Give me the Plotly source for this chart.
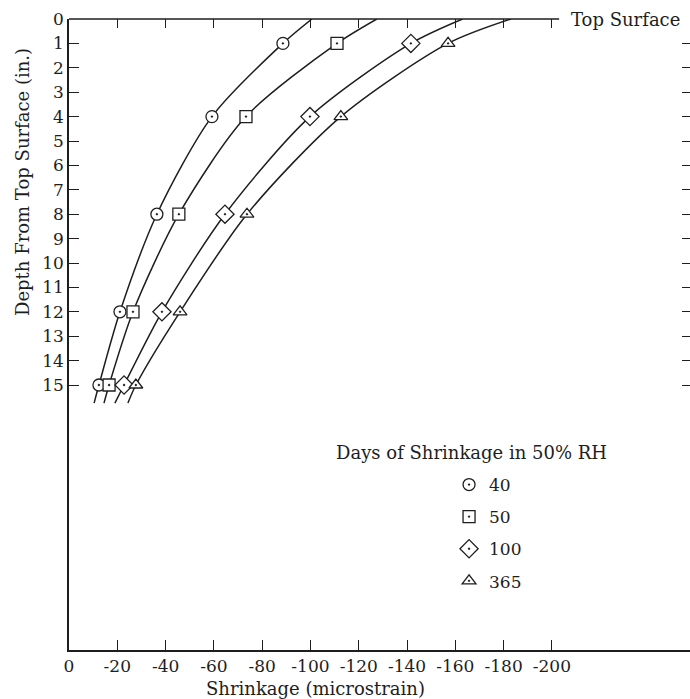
import plotly.graph_objects as go

# Depths (in.) of the plotted points, plus the curve ends
depth = [0, 1, 4, 8, 12, 15, 15.74]

# Shrinkage (microstrain) for each curve (first / last values are the curve ends)
s40 = [-100.6, -88.6, -59.2, -36.4, -21.1, -12.4, -10.4]
s50 = [-127.5, -111.0, -73.3, -45.5, -26.5, -16.6, -14.5]
s100 = [-163.0, -141.6, -99.8, -64.6, -38.5, -22.8, -19.0]
s365 = [-183.0, -157.0, -112.6, -73.7, -46.0, -27.7, -24.4]

series_names = ["40", "50", "100", "365"]
series_vals = [s40, s50, s100, s365]
symbols = ["circle-dot", "square-dot", "diamond-dot", "triangle-up-dot"]
sizes = [12, 12, 14, 12]

xtick_vals = [0, -20, -40, -60, -80, -100, -120, -140, -160, -180, -200]
xtick_text = ["0", "-20", "-40", "-60", "-80", "-100", "-120", "-140", "-160", "-180", "-200"]
ytick_vals = list(range(0, 16))

FONT = "DejaVu Serif"
INK = "#1e1e1e"

fig = go.Figure()

for name, vals, sym, sz in zip(series_names, series_vals, symbols, sizes):
    fig.add_trace(go.Scatter(
        x=vals, y=depth, mode="lines",
        line=dict(color=INK, width=1.5, shape="spline", smoothing=0.8),
        showlegend=False, hoverinfo="skip"))
    fig.add_trace(go.Scatter(
        x=vals[1:-1], y=depth[1:-1], mode="markers", name=name,
        legendgroup=name,
        marker=dict(symbol=sym, size=sz, color="white",
                    line=dict(color=INK, width=1.3)),
        showlegend=True))

# empty trace so the top/right tick-only axes get drawn
fig.add_trace(go.Scatter(x=[None], y=[None], xaxis="x2", yaxis="y2",
                         mode="lines", showlegend=False, hoverinfo="skip"))

fig.update_layout(
    width=690, height=699,
    margin=dict(l=69, r=0, t=19, b=49),
    paper_bgcolor="white", plot_bgcolor="white",
    font=dict(family=FONT, size=17, color=INK),
    xaxis=dict(range=[0, -257.2], tickvals=xtick_vals, ticktext=xtick_text,
               ticks="inside", ticklen=10, tickwidth=1.3, tickcolor=INK,
               showline=True, linecolor=INK, linewidth=1.5,
               showgrid=False, zeroline=False, tickfont=dict(size=17)),
    yaxis=dict(range=[25.86, 0], tickvals=ytick_vals,
               ticks="inside", ticklen=10, tickwidth=1.3, tickcolor=INK,
               showline=True, linecolor=INK, linewidth=1.5,
               showgrid=False, zeroline=False, tickfont=dict(size=17)),
    xaxis2=dict(range=[0, -257.2], overlaying="x", side="top", anchor="y2",
                tickvals=xtick_vals[1:], ticks="inside", ticklen=9,
                tickwidth=1.3, tickcolor=INK, showticklabels=False,
                showline=False, showgrid=False, zeroline=False),
    yaxis2=dict(range=[25.86, 0], overlaying="y", side="right", anchor="x2",
                tickvals=ytick_vals, ticks="inside", ticklen=8,
                tickwidth=1.3, tickcolor=INK, showticklabels=False,
                showline=False, showgrid=False, zeroline=False),
    legend=dict(x=0.612, y=0.29, xanchor="left", yanchor="top",
                bgcolor="rgba(0,0,0,0)", traceorder="grouped",
                tracegroupgap=7, font=dict(family=FONT, size=17, color=INK)),
    shapes=[dict(type="line", xref="x", yref="paper", x0=0, x1=-203,
                 y0=1, y1=1, line=dict(color=INK, width=1.5))],
    annotations=[
        dict(text="Top Surface", xref="paper", yref="paper",
             x=(569 - 69) / 621, y=1, xanchor="left", yanchor="middle",
             showarrow=False, font=dict(size=18)),
        dict(text="Depth From Top Surface (in.)", xref="paper", yref="paper",
             x=(22 - 69) / 621, y=(650 - 182) / 631, xanchor="center",
             yanchor="middle", textangle=-90, showarrow=False,
             font=dict(size=18)),
        dict(text="Shrinkage (microstrain)", xref="paper", yref="paper",
             x=(315 - 69) / 621, y=(650 - 688) / 631, xanchor="center",
             yanchor="middle", showarrow=False, font=dict(size=18)),
        dict(text="Days of Shrinkage in 50% RH", xref="paper", yref="paper",
             x=(471 - 69) / 621, y=(650 - 452) / 631, xanchor="center",
             yanchor="middle", showarrow=False, font=dict(size=18)),
    ],
)

# place the figure at the page's top-left corner, with no scrollbars
page_css = ("document.body.style.margin='0';"
            "document.documentElement.style.overflow='hidden';"
            "document.body.style.overflow='hidden';")

fig.write_html("out.html", post_script=page_css,
               config={"displayModeBar": False})
